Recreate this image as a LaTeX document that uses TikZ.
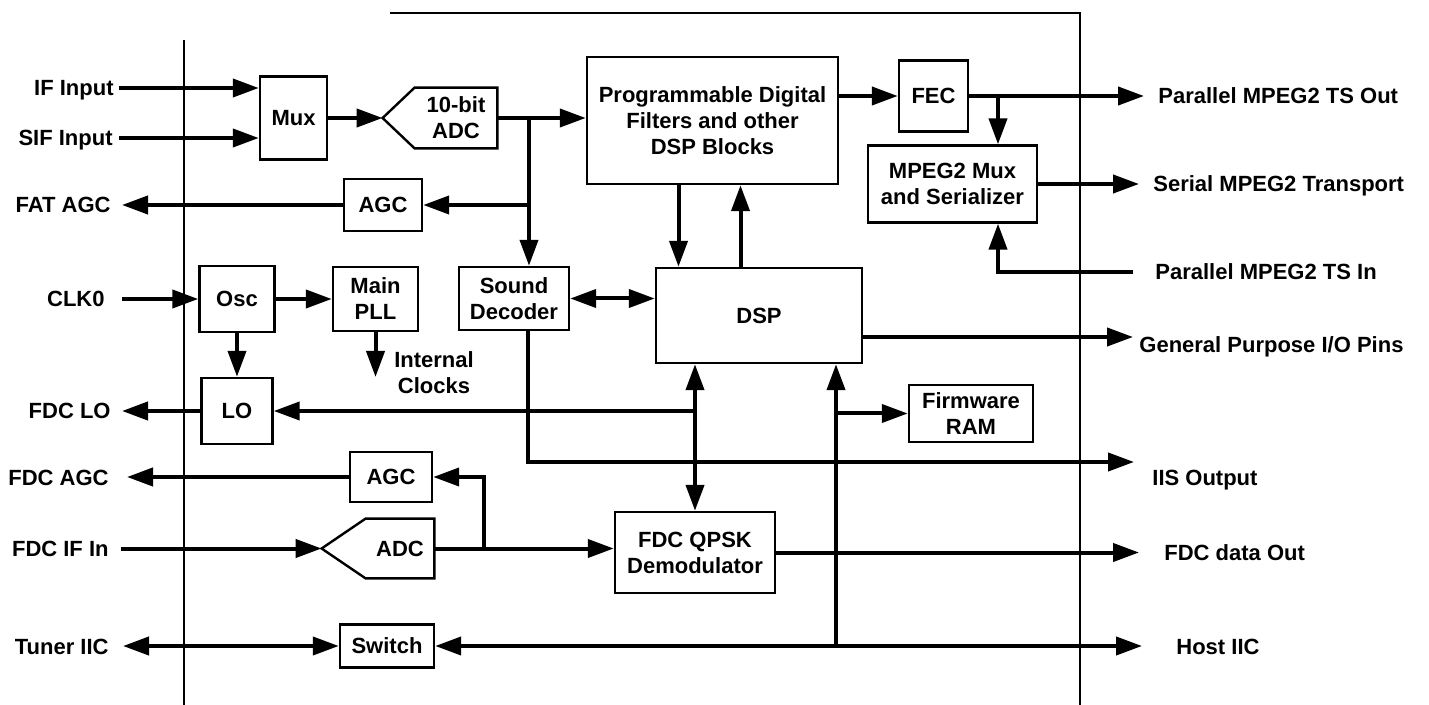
\documentclass[tikz,border=0pt]{standalone}
\usepackage{fontspec}
\setmainfont{Liberation Sans}
\usetikzlibrary{arrows.meta}

\begin{document}
\begin{tikzpicture}[x=.5pt,y=-.5pt,
  blk/.style={draw,line width=1.2pt,inner sep=0pt,align=center,font=\bfseries\fontsize{11}{13}\selectfont},
  adc/.style={inner sep=0pt,align=center,font=\bfseries\fontsize{11}{13}\selectfont},
  pin/.style={inner sep=0pt,text height=8pt,text depth=0pt,align=center,font=\bfseries\fontsize{11}{13}\selectfont},
  sig/.style={line width=2pt,-{Triangle[length=13pt,width=9pt]}},
  bisig/.style={line width=2pt,{Triangle[length=13pt,width=9pt]}-{Triangle[length=13pt,width=9pt]}},
  wire/.style={line width=2pt}]
\path[use as bounding box] (0,0) rectangle (1429,705);
\draw[line width=1pt] (390,13)--(1080,13)--(1080,705);
\draw[line width=1pt] (184,40)--(184,705);

\node[blk,minimum width=33.5pt,minimum height=41.5pt] (mux) at (293.5,118) {Mux};
\node[adc,minimum width=41pt,minimum height=30pt] (adcA) at (456,118) {10-bit\\ADC};
\coordinate (adcAtip) at ([xshift=-16pt]adcA.west);
\draw[line width=1.2pt] (adcA.north west)--(adcA.north east)--(adcA.south east)--(adcA.south west)--(adcAtip)--cycle;
\node[blk,minimum width=39pt,minimum height=26pt] (agcA) at (383,205) {AGC};
\node[blk,minimum width=125.5pt,minimum height=63.5pt] (pdf) at (712.5,120.5) {Programmable Digital\\Filters and other\\DSP Blocks};
\node[blk,minimum width=34.5pt,minimum height=35.5pt] (fec) at (933.5,96) {FEC};
\node[blk,minimum width=84.5pt,minimum height=38.5pt] (mpx) at (952.5,184) {MPEG2 Mux\\and Serializer};
\node[blk,minimum width=55pt,minimum height=31.5pt] (snd) at (514,298.5) {Sound\\Decoder};
\node[blk,minimum width=103pt,minimum height=47.5pt] (dsp) at (759,315.5) {DSP};
\node[blk,minimum width=37.5pt,minimum height=33pt] (osc) at (237,299) {Osc};
\node[blk,minimum width=42.5pt,minimum height=32pt] (pll) at (375.5,299) {Main\\PLL};
\node[blk,minimum width=35.5pt,minimum height=33pt] (lo) at (237,411) {LO};
\node[blk,minimum width=62pt,minimum height=28.5pt] (ram) at (971,413.5) {Firmware\\RAM};
\node[blk,minimum width=41pt,minimum height=25pt] (agcB) at (391,477) {AGC};
\node[adc,minimum width=34pt,minimum height=29.5pt] (adcB) at (400,548.5) {ADC};
\coordinate (adcBtip) at ([xshift=-22pt]adcB.west);
\draw[line width=1.2pt] (adcB.north west)--(adcB.north east)--(adcB.south east)--(adcB.south west)--(adcBtip)--cycle;
\node[blk,minimum width=80pt,minimum height=40.5pt] (qpsk) at (695,552.5) {FDC QPSK\\Demodulator};
\node[blk,minimum width=47pt,minimum height=21.5pt] (sw) at (387,646) {Switch};

\node[pin,anchor=east] (ifin) at (114,88) {IF Input};
\node[pin,anchor=east] (sifin) at (113,138) {SIF Input};
\node[pin,anchor=east] (fatagc) at (111,205) {FAT AGC};
\node[pin,anchor=east] (clk) at (105,299) {CLK0};
\node[pin,anchor=east] (fdclo) at (111,411) {FDC LO};
\node[pin,anchor=east] (fdcagc) at (109,477) {FDC AGC};
\node[pin,anchor=east] (fdcif) at (109,548.5) {FDC IF In};
\node[pin,anchor=east] (tuner) at (109,646) {Tuner IIC};
\node[pin,anchor=west] (tsout) at (1158,96) {Parallel MPEG2 TS Out};
\node[pin,anchor=west] (serout) at (1153,184) {Serial MPEG2 Transport};
\node[pin,anchor=west] (tsin) at (1155,272) {Parallel MPEG2 TS In};
\node[pin,anchor=west] (gpio) at (1139,345) {General Purpose I/O Pins};
\node[pin,anchor=west] (iis) at (1152,477) {IIS Output};
\node[pin,anchor=west] (fdcout) at (1164,552.5) {FDC data Out};
\node[pin,anchor=west] (host) at (1176,646) {Host IIC};
\node[adc] (intclk) at (434,373) {Internal\\Clocks};

\coordinate (ifinP) at (119,88);
\coordinate (sifinP) at (119,138);
\coordinate (fatagcP) at (122,205);
\coordinate (clkP) at (122,299);
\coordinate (fdcloP) at (122,411);
\coordinate (fdcagcP) at (127,477);
\coordinate (fdcifP) at (121,548.5);
\coordinate (tunerP) at (123,646);
\coordinate (tsoutP) at (1144,96);
\coordinate (seroutP) at (1139,184);
\coordinate (tsinP) at (1133,272);
\coordinate (gpioP) at (1133,337);
\coordinate (iisP) at (1134,462);
\coordinate (fdcoutP) at (1139,552.5);
\coordinate (hostP) at (1142,646);
\coordinate (clkout) at (375.5,377);
\coordinate (adcsplit) at (529,118);
\coordinate (fecsplit) at (998,96);
\coordinate (ramsplit) at (836,646);
\coordinate (agcsplit) at (484,548.5);

\draw[sig] (ifinP)--(ifinP -| mux.west);
\draw[sig] (sifinP)--(sifinP -| mux.west);
\draw[sig] (mux.east)--(adcAtip);
\draw[sig] (adcA.east)--(adcA.east -| pdf.west);
\draw[sig] (adcsplit)--(adcsplit |- snd.north);
\draw[sig] (adcsplit |- agcA.east)--(agcA.east);
\draw[sig] (agcA.west)--(fatagcP);
\draw[sig] (fec.west -| pdf.east)--(fec.west);
\draw[sig] (fec.east)--(tsoutP);
\draw[sig] (fecsplit)--(fecsplit |- mpx.north);
\draw[sig] (mpx.east)--(seroutP);
\draw[sig] (tsinP)-|(fecsplit |- mpx.south);
\draw[sig] ([xshift=-17pt]pdf.south)--([xshift=-17pt]pdf.south |- dsp.north);
\draw[sig] ([xshift=14pt]pdf.south |- dsp.north)--([xshift=14pt]pdf.south);
\draw[bisig] (snd.east)--(snd.east -| dsp.west);
\draw[sig] (clkP)--(clkP -| osc.west);
\draw[sig] (osc.east)--(pll.west);
\draw[sig] (pll.south)--(clkout);
\draw[sig] (osc.south)--(lo.north);
\draw[sig] (lo.west)--(fdcloP);
\draw[bisig] (qpsk.north |- dsp.south)--(qpsk.north);
\draw[sig] (qpsk.north |- lo.east)--(lo.east);
\draw[sig] (ramsplit)--(ramsplit |- dsp.south);
\draw[sig] (ramsplit |- ram.west)--(ram.west);
\draw[sig] ([xshift=7pt]snd.south)|-(iisP);
\draw[sig] (gpioP -| dsp.east)--(gpioP);
\draw[sig] (agcB.west)--(fdcagcP);
\draw[sig] (fdcifP)--(adcBtip);
\draw[sig] (adcB.east)--(adcB.east -| qpsk.west);
\draw[sig] (agcsplit)|-(agcB.east);
\draw[sig] (qpsk.east)--(fdcoutP);
\draw[bisig] (tunerP)--(sw.west);
\draw[bisig] (sw.east)--(hostP);
\end{tikzpicture}
\end{document}
